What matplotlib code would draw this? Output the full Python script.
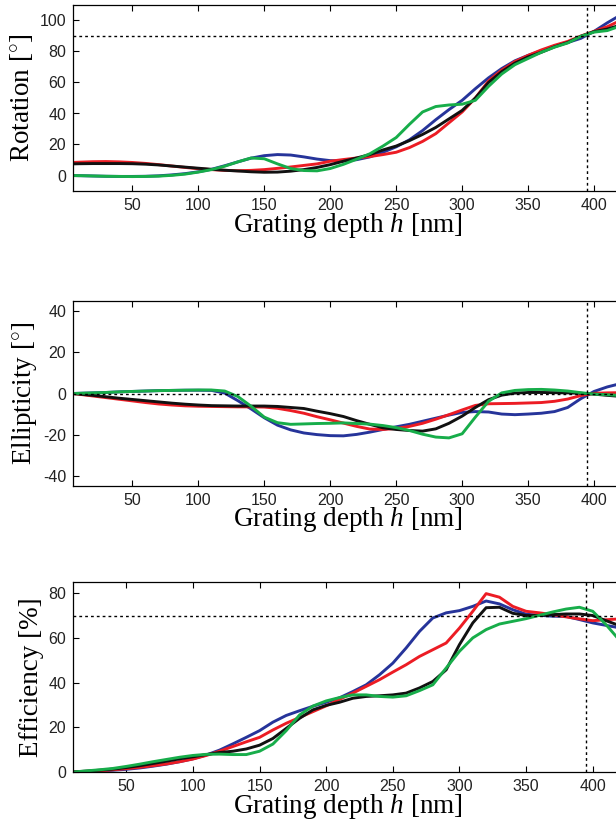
import numpy as np
import matplotlib
matplotlib.use("Agg")
import matplotlib.pyplot as plt

plt.rcParams["font.family"] = ["Liberation Sans", "DejaVu Sans"]
plt.rcParams["mathtext.fontset"] = "custom"
plt.rcParams["mathtext.rm"] = "Liberation Serif"
plt.rcParams["mathtext.it"] = "Liberation Serif:italic"
plt.rcParams["axes.unicode_minus"] = False

# grating depth samples (nm)
h_rot = [5, 10, 20, 30, 40, 50, 60, 70, 80, 90, 100, 110, 120, 130, 140, 150,
         160, 170, 180, 190, 200, 210, 220, 230, 240, 250, 260, 270, 280, 290,
         300, 310, 320, 330, 340, 350, 360, 370, 380, 390, 400, 410, 420]

rot_blue = [0, -0.1, -0.3, -0.5, -0.6, -0.6, -0.5, -0.2, 0.4, 1.2, 2.4, 4.0, 6.3, 8.8, 11.2, 12.8,
            13.5, 13.2, 12.0, 10.6, 9.6, 9.4, 10.2, 12.0, 15.0, 18.5, 23.0, 29.0, 36.0, 42.5,
            48.5, 56.0, 63.0, 69.0, 74.0, 77.5, 80.5, 83.5, 85.8, 88.5, 93.0, 98.5, 103.5]
rot_red = [8.4, 8.6, 8.9, 9.0, 8.8, 8.4, 7.8, 7.0, 6.1, 5.2, 4.4, 3.8, 3.3, 3.1, 3.3, 3.8,
           4.6, 5.5, 6.5, 7.5, 9.2, 10.3, 11.3, 12.2, 13.5, 15.0, 18.0, 22.0, 27.0, 34.0,
           41.0, 50.0, 61.0, 68.0, 73.5, 77.5, 81.0, 84.0, 86.5, 90.0, 93.0, 96.0, 100.0]
rot_black = [7.5, 7.6, 7.7, 7.7, 7.7, 7.6, 7.3, 6.8, 6.1, 5.4, 4.7, 4.0, 3.4, 2.9, 2.4, 2.1,
             2.2, 2.8, 3.8, 5.2, 7.0, 9.2, 11.3, 13.5, 16.5, 19.0, 22.5, 26.5, 31.0, 36.5,
             42.0, 50.0, 60.0, 67.0, 72.5, 76.5, 79.5, 83.0, 85.8, 89.8, 92.8, 94.5, 97.0]
rot_green = [0, -0.1, -0.3, -0.5, -0.6, -0.7, -0.6, -0.4, 0.1, 0.9, 2.2, 3.8, 6.0, 8.8, 11.3, 10.8,
             7.5, 4.5, 3.2, 3.0, 4.5, 7.2, 10.5, 14.0, 19.0, 24.5, 33.0, 41.0, 44.5, 45.5,
             46.0, 48.5, 57.5, 65.5, 71.5, 75.5, 79.5, 82.8, 85.5, 89.8, 92.5, 93.5, 96.5]

ell_blue = [0, 0.1, 0.3, 0.5, 0.8, 1.0, 1.2, 1.4, 1.5, 1.6, 1.6, 1.5, 0.2, -3.5, -7.5, -11.8,
            -15.4, -17.7, -19.2, -20.0, -20.5, -20.6, -19.9, -18.8, -17.5, -16.2, -15.0, -13.5, -12.0, -10.5,
            -9.2, -8.8, -9.0, -10.0, -10.3, -10.0, -9.6, -8.8, -6.8, -2.5, 1.0, 3.2, 4.8]
ell_red = [0, -0.4, -1.2, -2.0, -2.8, -3.6, -4.4, -5.1, -5.6, -6.0, -6.2, -6.3, -6.4, -6.5, -6.5, -6.6,
           -7.2, -8.3, -9.6, -11.3, -12.8, -14.4, -16.0, -17.3, -17.5, -17.0, -16.0, -14.5, -12.5, -10.3,
           -8.0, -5.8, -5.0, -4.9, -4.8, -4.6, -4.4, -3.8, -2.7, -1.0, 0.1, 0.3, 0.4]
ell_black = [0, -0.3, -0.9, -1.6, -2.3, -2.9, -3.5, -4.1, -4.7, -5.2, -5.6, -5.9, -6.0, -6.1, -6.1, -6.1,
             -6.3, -6.8, -7.3, -8.6, -9.8, -11.2, -13.2, -15.0, -16.7, -17.5, -18.0, -18.3, -17.2, -14.5,
             -11.0, -6.8, -3.0, -0.8, 0.2, 0.5, 0.5, 0.4, 0.3, 0.1, -0.3, -0.9, -1.4]
ell_green = [0, 0.1, 0.3, 0.5, 0.8, 1.0, 1.2, 1.4, 1.5, 1.6, 1.7, 1.7, 1.2, -1.5, -6.2, -11.5,
             -14.2, -15.0, -14.8, -14.6, -14.5, -14.3, -14.6, -14.9, -15.6, -16.6, -18.0, -19.8, -21.2, -21.6,
             -19.6, -11.5, -3.8, 0.3, 1.5, 1.9, 2.0, 1.7, 1.2, 0.4, -0.3, -0.6, -1.0]

h_eff = [10, 20, 30, 40, 50, 60, 70, 80, 90, 100, 110, 120, 130, 140, 150, 160, 170, 180,
         190, 200, 210, 220, 230, 240, 250, 260, 270, 280, 290, 300, 310, 320, 330, 340,
         350, 360, 370, 380, 390, 400, 410, 420]
eff_blue = [0, 0.1, 0.4, 0.8, 1.2, 1.8, 2.6, 3.5, 4.6, 5.9, 7.6, 9.8, 12.6, 15.5, 18.5, 22.3, 25.3, 27.4,
            29.4, 31.2, 33.2, 36.0, 39.0, 43.5, 48.7, 55.5, 62.9, 68.9, 71.2, 72.2, 74.1, 76.5, 75.2, 72.6,
            70.6, 70.1, 69.7, 69.6, 68.2, 66.7, 65.6, 64.5]
eff_red = [0, 0.2, 0.5, 1.0, 1.5, 2.1, 2.8, 3.6, 4.6, 5.8, 7.4, 9.3, 11.4, 13.5, 15.5, 18.8, 21.8, 24.4,
           27.0, 29.6, 32.5, 35.3, 38.3, 41.3, 44.7, 48.0, 51.7, 54.7, 57.7, 64.4, 71.9, 79.8, 78.2, 74.1,
           71.9, 71.2, 70.4, 69.4, 68.5, 67.7, 68.1, 68.5]
eff_black = [0, 0.4, 0.8, 1.3, 2.0, 2.8, 3.8, 4.8, 5.9, 6.8, 7.8, 8.7, 9.3, 10.3, 12.0, 15.0, 19.5, 24.0,
             27.8, 29.8, 31.2, 33.0, 33.8, 34.1, 34.5, 35.3, 37.6, 40.5, 45.7, 57.0, 66.7, 73.5, 73.7, 71.0,
             70.0, 70.0, 70.4, 70.7, 70.7, 70.0, 67.7, 65.5]
eff_green = [0, 0.5, 1.0, 1.6, 2.5, 3.5, 4.6, 5.6, 6.6, 7.4, 7.9, 8.0, 7.8, 7.8, 9.3, 12.5, 18.5, 25.5,
             29.5, 31.8, 33.3, 34.5, 34.5, 33.8, 33.5, 34.1, 36.4, 39.0, 46.5, 54.0, 60.0, 63.7, 66.2, 67.4,
             68.6, 70.1, 71.6, 72.9, 73.7, 71.9, 65.9, 59.0]

COLORS = {"blue": "#26349a", "red": "#ec1c24", "black": "#111111", "green": "#17ad4a"}

panels = [
    dict(h=h_rot, ys={"red": rot_red, "black": rot_black, "blue": rot_blue, "green": rot_green},
         ylabel=r"Rotation [$^{\circ}$]", ylim=(-10, 110), yticks=[0, 20, 40, 60, 80, 100],
         xlim=(5, 500), hline=90, pos=[73, 5, 653, 186]),
    dict(h=h_rot, ys={"red": ell_red, "black": ell_black, "blue": ell_blue, "green": ell_green},
         ylabel=r"Ellipticity [$^{\circ}$]", ylim=(-45, 45), yticks=[-40, -20, 0, 20, 40],
         xlim=(5, 500), hline=0, pos=[73, 301, 653, 185]),
    dict(h=h_eff, ys={"red": eff_red, "black": eff_black, "blue": eff_blue, "green": eff_green},
         ylabel=r"Efficiency [%]", ylim=(0, 85), yticks=[0, 20, 40, 60, 80],
         xlim=(10, 500), hline=70, pos=[73, 582, 653, 190]),
]

W, H = 616, 825
fig = plt.figure(figsize=(W / 100, H / 100), dpi=100)

for p in panels:
    x0, y0, w, hgt = p["pos"]
    ax = fig.add_axes([x0 / W, 1 - (y0 + hgt) / H, w / W, hgt / H])
    for name in ["blue", "red", "black", "green"]:
        ax.plot(p["h"], p["ys"][name], color=COLORS[name], lw=2.1, solid_joinstyle="round")
    ax.axhline(p["hline"], color="black", ls=(0, (2, 2.2)), lw=1.0)
    ax.axvline(395, color="black", ls=(0, (2, 2.2)), lw=1.0)
    ax.set_xlim(*p["xlim"])
    ax.set_ylim(*p["ylim"])
    ax.set_xticks(np.arange(50, 401, 50))
    ax.set_yticks(p["yticks"])
    ax.tick_params(direction="in", top=True, right=True, length=4, width=0.8,
                   labelsize=11.5, labelcolor="#222222", pad=5)
    for s in ax.spines.values():
        s.set_linewidth(0.9)
    ax.set_ylabel(p["ylabel"], fontsize=19.5, family="Liberation Serif", labelpad=3)
    ax.set_xlabel(r"Grating depth $h$ [nm]", fontsize=19.5, family="Liberation Serif", labelpad=0)
    ax.xaxis.set_label_coords((348 - x0) / w, -0.105)

fig.savefig("out.png", dpi=100)
